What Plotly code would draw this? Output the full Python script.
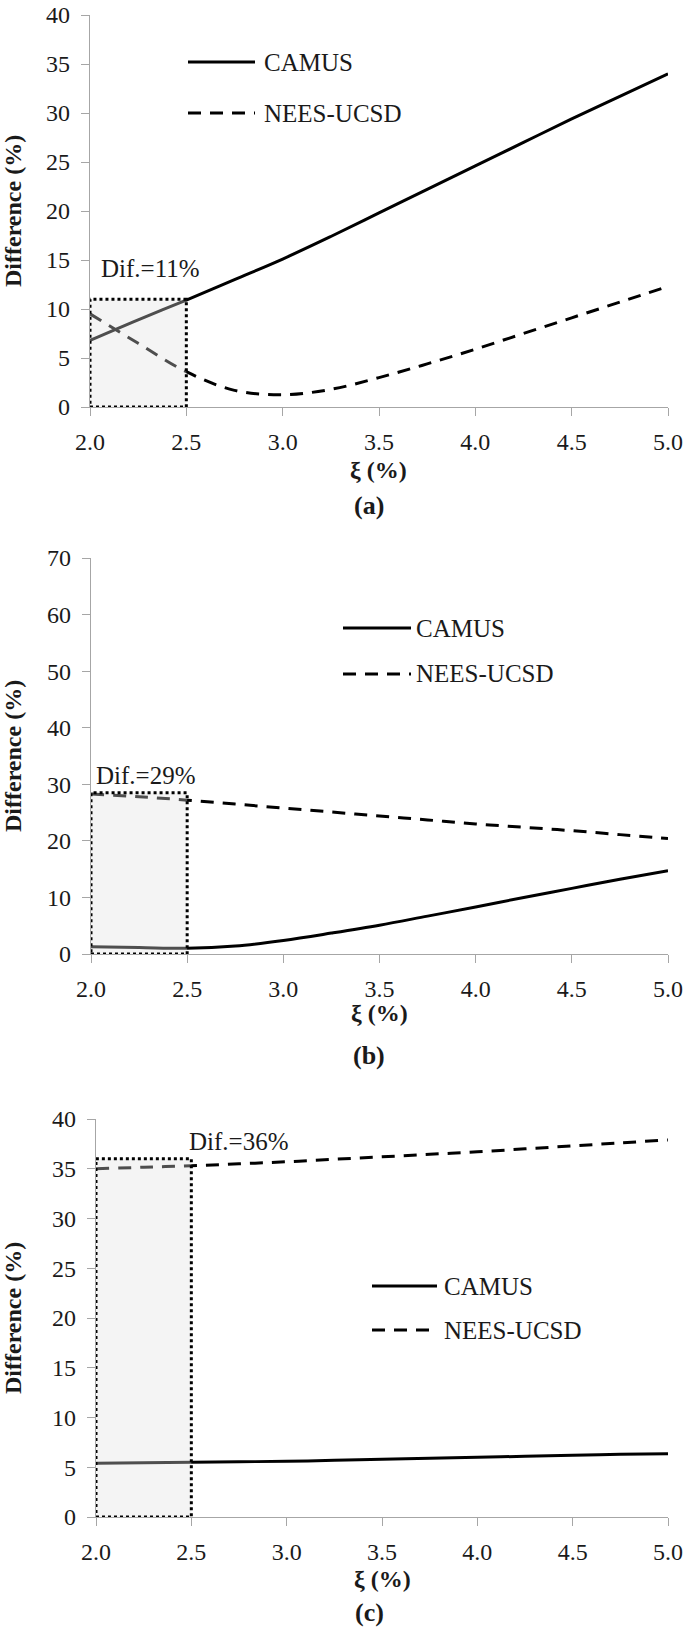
import plotly.graph_objects as go

W, H = 685, 1627

# ---------------- data ----------------
xi = [2.0, 2.25, 2.5, 2.75, 3.0, 3.25, 3.5, 3.75, 4.0, 4.25, 4.5, 4.75, 5.0]

camus_a = [6.8, 8.9, 10.9, 13.0, 15.1, 17.4, 19.8, 22.2, 24.6, 27.0, 29.4, 31.7, 34.0]
nees_a = [9.5, 6.5, 3.6, 1.7, 1.25, 1.8, 3.0, 4.4, 5.9, 7.5, 9.1, 10.7, 12.3]

camus_b = [1.3, 1.15, 1.0, 1.4, 2.4, 3.7, 5.1, 6.7, 8.3, 10.0, 11.6, 13.2, 14.7]
nees_b = [28.3, 27.8, 27.2, 26.5, 25.8, 25.1, 24.4, 23.7, 23.0, 22.4, 21.8, 21.1, 20.4]

camus_c = [5.4, 5.45, 5.5, 5.55, 5.6, 5.7, 5.8, 5.9, 6.0, 6.1, 6.2, 6.3, 6.35]
nees_c = [35.0, 35.15, 35.3, 35.5, 35.7, 35.95, 36.2, 36.45, 36.7, 37.0, 37.3, 37.6, 37.9]

box_tops = [11, 28.5, 36]
dif_labels = ["Dif.=11%", "Dif.=29%", "Dif.=36%"]
panel_labels = ["(a)", "(b)", "(c)"]
y_ranges = [(0, 40, 5), (0, 70, 10), (0, 40, 5)]
x_ticks = [2.0, 2.5, 3.0, 3.5, 4.0, 4.5, 5.0]
series_names = ["CAMUS", "NEES-UCSD"]

# ---------------- layout helpers ----------------
FONT = "Liberation Serif, Tinos, Times New Roman, DejaVu Serif, serif"
TXT = "#1a1a1a"
def px(x):
    return x / W
def py(y):
    return 1 - y / H

# plot areas in pixels: (left, right, top, bottom)
areas = [(90, 668, 15, 407), (91, 668, 558, 954), (96, 668, 1119, 1517)]
legend_pos = [  # line x0, x1, text x, y CAMUS, y NEES
    (188, 255, 262, 62, 113),
    (343, 411, 414, 628, 674),
    (372, 437, 442, 1286, 1330),
]
dif_pos = [(2.045, 14.1), (2.015, 31.6), (2.475, 37.7)]
xtitle_y = [470, 1013, 1579]
plabel_y = [505, 1055, 1612]

fig = go.Figure()
shapes = []
annotations = []
data = [(camus_a, nees_a), (camus_b, nees_b), (camus_c, nees_c)]

for i in range(3):
    sfx = "" if i == 0 else str(i + 1)
    xa, ya = "x" + sfx, "y" + sfx
    cam, nee = data[i]
    fig.add_trace(go.Scatter(x=xi, y=cam, mode="lines", name=series_names[0],
                             line=dict(color="black", width=3, shape="spline"),
                             xaxis=xa, yaxis=ya, showlegend=False, cliponaxis=False))
    fig.add_trace(go.Scatter(x=xi, y=nee, mode="lines", name=series_names[1],
                             line=dict(color="black", width=3, shape="spline", dash="13px,9px"),
                             xaxis=xa, yaxis=ya, showlegend=False, cliponaxis=False))
    l, r, t, b = areas[i]
    y0, y1, dy = y_ranges[i]
    axis_common = dict(showgrid=False, zeroline=False, showline=True, linecolor="#a6a6a6",
                       linewidth=1.3, ticks="outside", tickcolor="#a6a6a6", ticklen=8,
                       tickwidth=1.3, automargin=False, ticklabeloverflow="allow",
                       tickfont=dict(family=FONT, size=24, color=TXT))
    fig.update_layout(**{
        "xaxis" + sfx: dict(domain=[px(l), px(r)], range=[2, 5], anchor=ya,
                            tickvals=x_ticks, ticktext=[f"{v:.1f}" for v in x_ticks],
                            ticklabelstandoff=5, **axis_common),
        "yaxis" + sfx: dict(domain=[py(b), py(t)], range=[y0, y1], anchor=xa,
                            tickvals=list(range(y0, y1 + 1, dy)),
                            ticklabelstandoff=6, **axis_common),
    })
    # highlighted box
    shapes.append(dict(type="rect", xref=xa, yref=ya, x0=2.0, x1=2.5, y0=0, y1=box_tops[i],
                       line=dict(color="black", width=3, dash="dot"),
                       fillcolor="rgba(224,224,224,0.35)", layer="above"))
    annotations.append(dict(xref=xa, yref=ya, x=dif_pos[i][0], y=dif_pos[i][1],
                            text=dif_labels[i], showarrow=False, xanchor="left", yanchor="middle",
                            font=dict(family=FONT, size=25, color=TXT)))
    # legend
    lx0, lx1, tx, yc, yn = legend_pos[i]
    shapes.append(dict(type="line", xref="paper", yref="paper", x0=px(lx0), x1=px(lx1),
                       y0=py(yc), y1=py(yc), line=dict(color="black", width=3)))
    shapes.append(dict(type="line", xref="paper", yref="paper", x0=px(lx0), x1=px(lx1),
                       y0=py(yn), y1=py(yn), line=dict(color="black", width=3, dash="13px,9px")))
    for name, yy in zip(series_names, (yc, yn)):
        annotations.append(dict(xref="paper", yref="paper", x=px(tx), y=py(yy), text=name,
                                showarrow=False, xanchor="left", yanchor="middle",
                                font=dict(family=FONT, size=25, color=TXT)))
    # axis titles
    annotations.append(dict(xref="paper", yref="paper", x=px(13), y=py((t + b) / 2),
                            text="<b>Difference (%)</b>", textangle=-90, showarrow=False,
                            xanchor="center", yanchor="middle",
                            font=dict(family=FONT, size=24, color=TXT)))
    annotations.append(dict(xref="paper", yref="paper", x=px((l + r) / 2), y=py(xtitle_y[i]),
                            text="<b>ξ (%)</b>", showarrow=False, xanchor="center", yanchor="middle",
                            font=dict(family=FONT, size=24, color=TXT)))
    annotations.append(dict(xref="paper", yref="paper", x=px(369), y=py(plabel_y[i]),
                            text="<b>" + panel_labels[i] + "</b>", showarrow=False,
                            xanchor="center", yanchor="middle",
                            font=dict(family=FONT, size=26, color=TXT)))

fig.update_layout(width=W, height=H,
                  margin=dict(l=0, r=0, t=0, b=0, pad=0, autoexpand=False),
                  paper_bgcolor="white", plot_bgcolor="white",
                  font=dict(family=FONT),
                  shapes=shapes, annotations=annotations, showlegend=False)
fig.write_html("out.html", config={"displayModeBar": False},
               post_script="document.body.style.margin='0';document.body.style.padding='0';")
